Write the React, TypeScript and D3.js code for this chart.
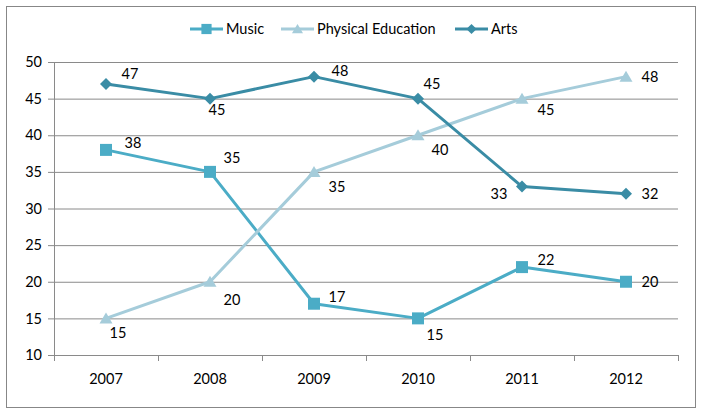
import { useEffect, useRef } from "react";
import * as d3 from "d3";

const years = ["2007", "2008", "2009", "2010", "2011", "2012"];
const music = [38, 35, 17, 15, 22, 20];
const physicalEducation = [15, 20, 35, 40, 45, 48];
const arts = [47, 45, 48, 45, 33, 32];
const yTicks = [10, 15, 20, 25, 30, 35, 40, 45, 50];

// label offsets relative to each point (layout only)
const musicLabelOffsets: [number, number][] = [[27, -7], [22, -14], [23, -7], [17, 17], [24, -7], [24, 0]];
const peLabelOffsets: [number, number][] = [[12, 15], [22, 18], [23, 15], [22, 15], [24, 11], [24, 0]];
const artsLabelOffsets: [number, number][] = [[24, -10], [7, 11], [26, -6], [14, -15], [-23, 7], [24, 0]];

type Marker = "square" | "triangle" | "diamond";

const seriesList = [
  { name: "Music", values: music, color: "#4BACC6", marker: "square" as Marker, offsets: musicLabelOffsets },
  { name: "Physical Education", values: physicalEducation, color: "#A5CCDA", marker: "triangle" as Marker, offsets: peLabelOffsets },
  { name: "Arts", values: arts, color: "#3A8CA5", marker: "diamond" as Marker, offsets: artsLabelOffsets },
];

const W = 703;
const H = 415;
const FONT = "Lato, 'Open Sans', sans-serif";
const FS = "14.5px";

function markerPath(m: Marker): string {
  if (m === "square") return "M-6,-6H6V6H-6Z";
  if (m === "triangle") return "M0,-6L6.5,5H-6.5Z";
  return "M0,-6L6,0L0,6L-6,0Z";
}

const App = () => {
  const svgRef = useRef<SVGSVGElement | null>(null);

  useEffect(() => {
    if (!svgRef.current) return;
    const svg = d3.select(svgRef.current);
    svg.selectAll("*").remove();

    const margin = { left: 54, right: 25, top: 62, bottom: 60 };

    const x = d3.scaleBand().domain(years).range([margin.left, W - margin.right]);
    const y = d3.scaleLinear().domain([10, 50]).range([H - margin.bottom, margin.top]);

    // outer border
    svg.append("rect")
      .attr("x", 6.5).attr("y", 6.5)
      .attr("width", 689).attr("height", 401)
      .attr("fill", "#fff").attr("stroke", "#878787");

    // gridlines
    svg.append("g")
      .attr("transform", `translate(${margin.left},0)`)
      .call(d3.axisLeft(y).tickValues(yTicks).tickSize(-(W - margin.left - margin.right)).tickFormat(() => ""))
      .call(g => g.select(".domain").remove())
      .call(g => g.selectAll("line").attr("stroke", "#8a8a8a"));

    // y axis
    const yAxis = svg.append("g")
      .attr("transform", `translate(${margin.left},0)`)
      .call(d3.axisLeft(y).tickValues(yTicks).tickSize(6).tickPadding(6));
    yAxis.select(".domain").attr("stroke", "#8a8a8a").attr("d", `M0.5,${y(10)}V${y(50)}`);
    yAxis.selectAll("line").attr("stroke", "#8a8a8a");
    yAxis.selectAll("text").attr("fill", "#000").style("font-family", FONT).style("font-size", FS);

    // x axis
    const xAxis = svg.append("g")
      .attr("transform", `translate(0,${y(10)})`)
      .call(d3.axisBottom(x).tickSize(0).tickPadding(19));
    xAxis.select(".domain").attr("stroke", "#8a8a8a");
    xAxis.selectAll("text").attr("fill", "#000").style("font-family", FONT).style("font-size", FS);
    // boundary tick marks
    const bounds = years.map(yr => x(yr)!).concat([x(years[years.length - 1])! + x.bandwidth()]);
    svg.append("g").selectAll("line").data(bounds).join("line")
      .attr("x1", d => d + 0.5).attr("x2", d => d + 0.5)
      .attr("y1", y(10)).attr("y2", y(10) + 6)
      .attr("stroke", "#8a8a8a");

    const cx = (i: number) => x(years[i])! + x.bandwidth() / 2;

    // series
    seriesList.forEach(s => {
      const line = d3.line<number>().x((_, i) => cx(i)).y(d => y(d));
      svg.append("path").datum(s.values)
        .attr("fill", "none").attr("stroke", s.color).attr("stroke-width", 3)
        .attr("stroke-linejoin", "round").attr("d", line);
    });
    seriesList.forEach(s => {
      svg.append("g").selectAll("path").data(s.values).join("path")
        .attr("transform", (d, i) => `translate(${cx(i)},${y(d)})`)
        .attr("d", markerPath(s.marker)).attr("fill", s.color);
    });
    seriesList.forEach(s => {
      svg.append("g").selectAll("text").data(s.values).join("text")
        .attr("x", (d, i) => cx(i) + s.offsets[i][0])
        .attr("y", (d, i) => y(d) + s.offsets[i][1])
        .attr("dy", "0.35em")
        .attr("text-anchor", "middle")
        .style("font-family", FONT).style("font-size", FS)
        .attr("fill", "#000")
        .text(d => d);
    });

    // legend
    const legendX = [190, 281, 455];
    const legend = svg.append("g");
    seriesList.forEach((s, i) => {
      const g = legend.append("g").attr("transform", `translate(${legendX[i]},29)`);
      g.append("line").attr("x1", 0).attr("x2", 33).attr("stroke", s.color).attr("stroke-width", 3);
      g.append("path").attr("transform", "translate(16.5,0) scale(0.85)").attr("d", markerPath(s.marker)).attr("fill", s.color);
      g.append("text").attr("x", 36).attr("dy", "0.35em")
        .style("font-family", FONT).style("font-size", FS).attr("fill", "#000").text(s.name);
    });
  }, []);

  return (
    <svg ref={svgRef} width={W} height={H}
      style={{ position: "absolute", left: 0, top: 0, background: "#fff" }} />
  );
};

export default App;
